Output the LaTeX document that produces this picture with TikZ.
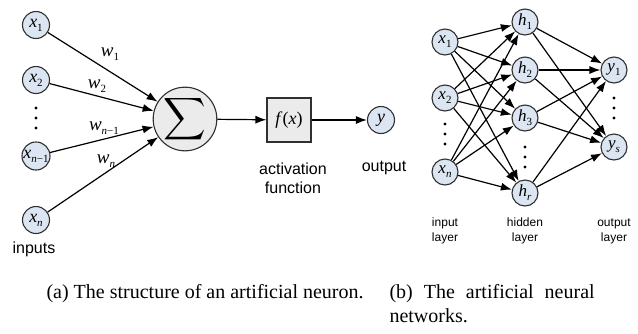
\documentclass[tikz,border=0pt]{standalone}
\usepackage{fontspec}
\setmainfont{Liberation Serif}
\newfontfamily\labelsans{Liberation Sans}
\usetikzlibrary{arrows.meta}
\definecolor{nodeblue}{HTML}{DCE6F2}
\definecolor{sumgrey}{HTML}{EBEBEB}
\definecolor{edgegrey}{HTML}{303030}
% italic variable with a subscript, in the serif face
\newcommand{\var}[2]{\textit{#1}\raisebox{-0.5ex}{\fontsize{11}{11}\selectfont #2}}
\begin{document}
\begin{tikzpicture}[x=1pt,y=-1pt,
  neuron/.style={circle,draw=edgegrey,line width=1.1pt,fill=nodeblue,
    minimum size=27pt,inner sep=0pt,font=\fontsize{18}{18}\selectfont},
  smallneuron/.style={neuron,minimum size=26pt,font=\fontsize{17}{17}\selectfont},
  conn/.style={line width=1.2pt,-{Latex[length=11pt,width=8pt]}},
  weight/.style={font=\fontsize{19}{19}\selectfont,inner sep=0pt},
  sans/.style={font=\labelsans\fontsize{16}{19}\selectfont,align=center},
  smallsans/.style={font=\labelsans\fontsize{12}{15}\selectfont,align=center},
  caption/.style={font=\fontsize{20}{24}\selectfont,anchor=base west},
  dot/.style={circle,fill=black,inner sep=0pt,minimum size=3.4pt}]
\useasboundingbox (0,0) rectangle (638,333);

% ---- (a) a single neuron ----
\node[neuron] (a1) at (36,25)  {\var{x}{1}};
\node[neuron] (a2) at (36,80)  {\var{x}{2}};
\node[neuron] (a3) at (36,156) {\var{x}{\textit{n}\/−1}};
\node[neuron] (a4) at (36,220) {\var{x}{\textit{n}}};
\foreach \k in {0,1,2} \node[dot] (adot\k) at (36,{108+10*\k}) {};
\node[sans] (inputs) at (34,249) {inputs};

\node[circle,draw=edgegrey,line width=1.1pt,fill=sumgrey,minimum size=50pt,inner sep=0pt]
  (sum) at (185,119) {\resizebox{!}{31pt}{$\displaystyle\sum$}};
\node[draw=edgegrey,line width=1.1pt,fill=sumgrey,minimum width=44pt,minimum height=44pt,
  inner sep=0pt,font=\fontsize{18}{18}\selectfont] (act) at (289,120) {\textit{f}(\textit{x})};
\node[neuron] (out) at (381,120) {\textit{y}};

\node[sans] (actlabel) at (293,178) {activation\\function};
\node[sans] (outlabel) at (384,168) {output};

\draw[conn] (a1) -- (sum);
\draw[conn] (a2) -- (sum);
\draw[conn] (a3) -- (sum);
\draw[conn] (a4) -- (sum);
\draw[conn] (sum) -- (act);
\draw[conn] (act) -- (out);

\node[weight] (w1) at (110,54)  {\var{w}{1}};
\node[weight] (w2) at (97,86)   {\var{w}{2}};
\node[weight] (w3) at (104,128) {\var{w}{\textit{n}\/−1}};
\node[weight] (w4) at (106,161) {\var{w}{\textit{n}}};

% ---- (b) a network with one hidden layer ----
\node[smallneuron] (x1) at (445,42)  {\var{x}{1}};
\node[smallneuron] (x2) at (445,98)  {\var{x}{2}};
\node[smallneuron] (xn) at (445,172) {\var{x}{\textit{n}}};
\foreach \k in {0,1,2} \node[dot] (xdot\k) at (445,{124+10*\k}) {};

\node[smallneuron] (h1) at (525,22)  {\var{h}{1}};
\node[smallneuron] (h2) at (525,70)  {\var{h}{2}};
\node[smallneuron] (h3) at (525,118) {\var{h}{3}};
\node[smallneuron] (hr) at (525,193) {\var{h}{\textit{r}}};
\foreach \k in {0,1,2} \node[dot] (hdot\k) at (525,{147+10*\k}) {};

\node[smallneuron] (y1) at (614,70)  {\var{y}{1}};
\node[smallneuron] (ys) at (614,147) {\var{y}{\textit{s}}};
\foreach \k in {0,1,2} \node[dot] (ydot\k) at (614,{98+10*\k}) {};

\foreach \i in {x1,x2,xn}
  \foreach \j in {h1,h2,h3,hr}
    \draw[conn] (\i) -- (\j);
\foreach \i in {h1,h2,h3,hr}
  \foreach \j in {y1,ys}
    \draw[conn] (\i) -- (\j);

\node[smallsans] (inlayer)  at (445,231) {input\\layer};
\node[smallsans] (hidlayer) at (525,231) {hidden\\layer};
\node[smallsans] (outlayer) at (614,231) {output\\layer};

% ---- captions ----
\node[caption] (capa) at (43,298) {(a) The structure of an artificial neuron.};
\node[caption] (capb1) at (386,298) {(b)\hspace{0.55em}The\hspace{0.55em}artificial\hspace{0.55em}neural};
\node[caption] (capb2) at (386,322) {networks.};
\end{tikzpicture}
\end{document}
